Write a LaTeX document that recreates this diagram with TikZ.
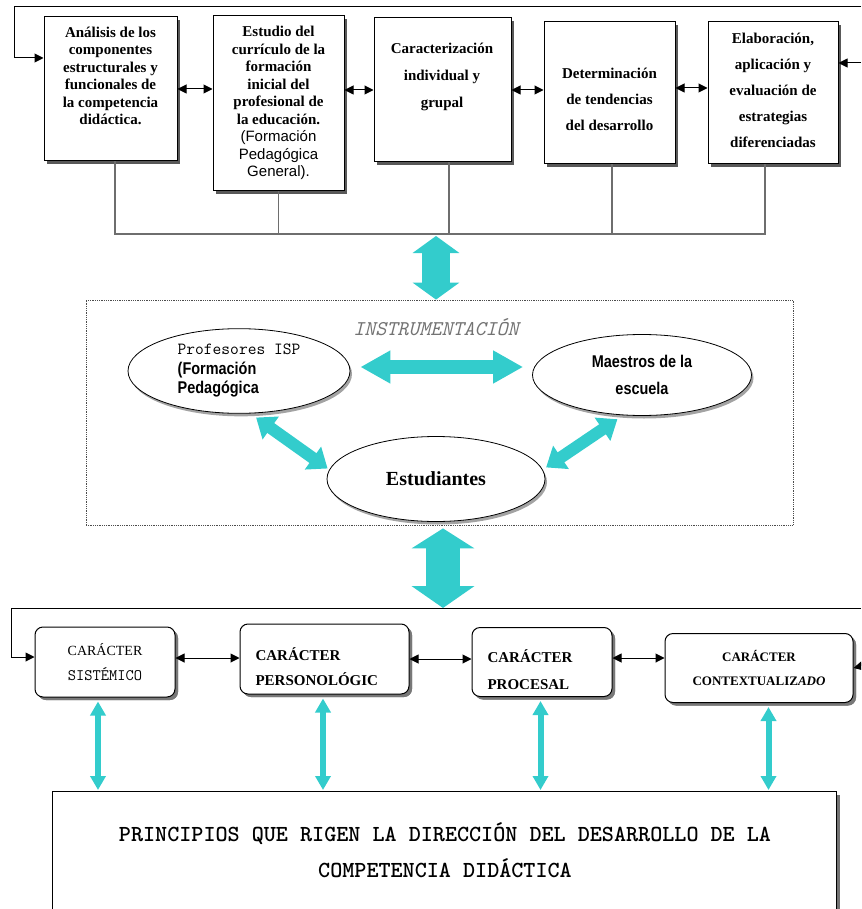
\documentclass[tikz,border=0pt]{standalone}
\usepackage{fontspec}
\setmainfont{Liberation Serif}
\setsansfont{Liberation Sans}
\newfontfamily\estrecha[FakeStretch=0.85]{Liberation Sans}
\usepackage{tikz}
\usetikzlibrary{arrows.meta,shapes.geometric,shadows}
\definecolor{turquesa}{RGB}{51,204,204}
\definecolor{gris}{RGB}{110,110,110}

\begin{document}
\begin{tikzpicture}[x=1pt,y=-1pt,>={Triangle[length=9pt,width=9pt]}]
  \tikzstyle{caja} = [draw=black, line width=1pt, fill=white, drop shadow={shadow xshift=3pt, shadow yshift=-3pt, fill=black!65, opacity=1}];
  \tikzstyle{redonda} = [caja, rounded corners=8pt, drop shadow={shadow xshift=3pt, shadow yshift=-3pt, fill=black!50, opacity=.8}];
  \tikzstyle{elipse} = [ellipse, draw=black, line width=0.8pt, fill=white, drop shadow={shadow xshift=2pt, shadow yshift=-3pt, fill=black!45, opacity=.8}];
  \tikzstyle{texto} = [align=center, font=\bfseries\fontsize{15}{17.5}\selectfont];
  \tikzstyle{bus} = [draw=gris, line width=1.5pt];
  \tikzstyle{enlace} = [<->, line width=1pt];
  \tikzstyle{flechagrande} = [turquesa, line width=28pt, arrows={Triangle[length=17pt,width=46pt]-Triangle[length=17pt,width=46pt]}];
  \tikzstyle{flechamedia} = [turquesa, line width=14pt, arrows={Triangle[length=30pt,width=31pt]-Triangle[length=30pt,width=31pt]}];
  \tikzstyle{flechadiag} = [turquesa, line width=12pt, arrows={Triangle[length=18pt,width=27pt]-Triangle[length=18pt,width=27pt]}];
  \tikzstyle{flechafina} = [turquesa, line width=6pt, arrows={Triangle[length=14pt,width=15pt]-Triangle[length=14pt,width=15pt]}];

  \useasboundingbox (0,0) rectangle (861,909);
  \clip (0,0) rectangle (861,909);

  % fila superior
  \node[caja, minimum width=133pt, minimum height=144pt] (analisis) at (110.5,89) {};
  \node[caja, minimum width=131pt, minimum height=175pt] (estudio) at (278.5,103.5) {};
  \node[caja, minimum width=137pt, minimum height=144pt] (caract) at (442.5,90) {};
  \node[caja, minimum width=131pt, minimum height=142pt] (determ) at (609.5,93) {};
  \node[caja, minimum width=130pt, minimum height=142pt] (elab) at (773,93) {};

  \node[texto] (analisistxt) at (110.5,76) {Análisis de los\\componentes\\estructurales y\\funcionales de\\la competencia\\didáctica.};
  \node[texto] (estudiotxt) at (278.5,103) {Estudio del\\currículo de la\\formación\\inicial del\\profesional de\\la educación.\\{\sffamily\mdseries (Formación}\\{\sffamily\mdseries Pedagógica}\\{\sffamily\mdseries General).}};
  \node[texto, font=\bfseries\fontsize{15}{27}\selectfont] (caracttxt) at (442,77) {Caracterización\\individual y\\grupal};
  \node[texto, font=\bfseries\fontsize{15}{26}\selectfont] (determtxt) at (609.5,99) {Determinación\\de tendencias\\del desarrollo};
  \node[texto, font=\bfseries\fontsize{15}{26}\selectfont] (elabtxt) at (773,90) {Elaboración,\\aplicación y\\evaluación de\\estrategias\\diferenciadas};

  \draw[enlace] (analisis.east) -- (analisis.east -| estudio.west);
  \draw[enlace] (caract.west -| estudio.east) -- (caract.west);
  \draw[enlace] (caract.east) -- (caract.east -| determ.west);
  \draw[enlace] ([yshift=5pt]determ.east) -- ([yshift=5pt]elab.west);

  \coordinate (borde) at (861,7);
  \coordinate (entrada) at (861,63);
  \draw[->, line width=1pt] (borde) -| ([xshift=-29pt,yshift=31pt]analisis.west) -- ([yshift=31pt]analisis.west);
  \draw[->, line width=1pt] (entrada) -- ([yshift=30pt]elab.east);

  \coordinate (bus) at (436,234);
  \draw[bus] ([xshift=4.5pt]analisis.south) |- ([xshift=-8pt]elab.south |- bus) -- ([xshift=-8pt]elab.south);
  \draw[bus] (estudio.south) -- (estudio.south |- bus);
  \draw[bus] ([xshift=6.5pt]caract.south) -- ([xshift=6.5pt]caract.south |- bus);
  \draw[bus] ([xshift=2.5pt]determ.south) -- ([xshift=2.5pt]determ.south |- bus);

  % instrumentacion
  \node[draw=black!70, densely dotted, line width=0.8pt, minimum width=707pt, minimum height=225pt] (instr) at (439.5,412.5) {};
  \node[font=\ttfamily\itshape\fontsize{21}{21}\selectfont, text=black!55] (titulo) at (436,327) {INSTRUMENTACIÓN};

  \node[elipse, minimum width=222pt, minimum height=80pt, align=left, font=\estrecha\bfseries\fontsize{17}{19.5}\selectfont] (profesores) at (239,371) {{\ttfamily\mdseries\fontsize{17}{19.5}\selectfont Profesores ISP}\\(Formación\\Pedagógica};
  \node[elipse, minimum width=219pt, minimum height=81pt, align=center, font=\estrecha\bfseries\fontsize{17}{27}\selectfont] (maestros) at (642,375) {Maestros de la\\escuela};
  \node[elipse, minimum width=218pt, minimum height=85pt, font=\bfseries\fontsize{20}{20}\selectfont] (estudiantes) at (436,479) {Estudiantes\hspace{30pt}};

  \draw[flechagrande] ([yshift=-2pt]bus) -- (bus |- instr.north);
  \draw[flechamedia, shorten <=10pt, shorten >=9pt] ([yshift=4pt]profesores.east) -- ([yshift=4pt]profesores.east -| maestros.west);
  \draw[flechadiag, shorten <=7pt, shorten >=2pt] (profesores.-75) -- (estudiantes.175);
  \draw[flechadiag, shorten <=7pt, shorten >=4pt] (maestros.-115) -- (estudiantes.5);

  % principios
  \coordinate (abajo) at (443,608);
  \draw[flechagrande, line width=34pt, arrows={Triangle[length=20pt,width=62pt]-Triangle[length=22pt,width=62pt]}, shorten <=3pt] (instr.south -| abajo) -- (abajo);

  \node[redonda, minimum width=140pt, minimum height=70pt, align=center, font=\fontsize{14}{25}\selectfont] (sistemico) at (105,662) {CARÁCTER\\{\ttfamily\fontsize{16}{25}\selectfont SISTÉMICO}};
  \node[redonda, minimum width=169pt, minimum height=70pt] (personologico) at (324.5,659) {};
  \node[redonda, minimum width=140pt, minimum height=69pt] (procesal) at (542,662) {};
  \node[redonda, minimum width=188pt, minimum height=69pt, align=center, font=\bfseries\fontsize{13}{24}\selectfont] (contextual) at (759,668) {CARÁCTER\\CONTEXTUALIZ\textit{ADO}};
  \node[anchor=west, align=left, font=\bfseries\fontsize{15}{25}\selectfont] (personologicotxt) at (252,666.5) {CARÁCTER\\PERSONOLÓGIC};
  \node[anchor=west, align=left, font=\bfseries\fontsize{15}{27}\selectfont] (procesaltxt) at (484,669.5) {CARÁCTER\\PROCESAL};

  \coordinate (bordeb) at (861,608);
  \coordinate (entradab) at (866,665);
  \draw[->, line width=1pt] (bordeb) -| ([xshift=-23pt,yshift=5pt]sistemico.west) -- ([yshift=5pt]sistemico.west);
  \draw[->, line width=1pt] (entradab) -- (contextual.east);
  \draw[enlace] ([yshift=4pt]sistemico.east) -- ([yshift=4pt]sistemico.east -| personologico.west);
  \draw[enlace] (personologico.east) -- (personologico.east -| procesal.west);
  \draw[enlace] ([yshift=4pt]procesal.east) -- ([yshift=4pt]procesal.east -| contextual.west);

  \node[caja, minimum width=784pt, minimum height=160pt, anchor=north, drop shadow={shadow xshift=4pt, shadow yshift=-3pt, fill=black!55, opacity=1}] (principios) at (444,791) {};
  \node[align=center, font=\ttfamily\bfseries\fontsize{23}{36}\selectfont] (principiostxt) at (445,850) {PRINCIPIOS QUE RIGEN LA DIRECCIÓN DEL DESARROLLO DE LA\\COMPETENCIA DIDÁCTICA};

  \draw[flechafina, shorten <=4pt, shorten >=1pt] ([xshift=-7pt]sistemico.south) -- ([xshift=-7pt]sistemico.south |- principios.north);
  \draw[flechafina, shorten <=4pt, shorten >=1pt] ([xshift=-1.5pt]personologico.south) -- ([xshift=-1.5pt]personologico.south |- principios.north);
  \draw[flechafina, shorten <=4pt, shorten >=1pt] ([xshift=-1.5pt]procesal.south) -- ([xshift=-1.5pt]procesal.south |- principios.north);
  \draw[flechafina, shorten <=4pt, shorten >=1pt] ([xshift=9.5pt]contextual.south) -- ([xshift=9.5pt]contextual.south |- principios.north);
\end{tikzpicture}
\end{document}
